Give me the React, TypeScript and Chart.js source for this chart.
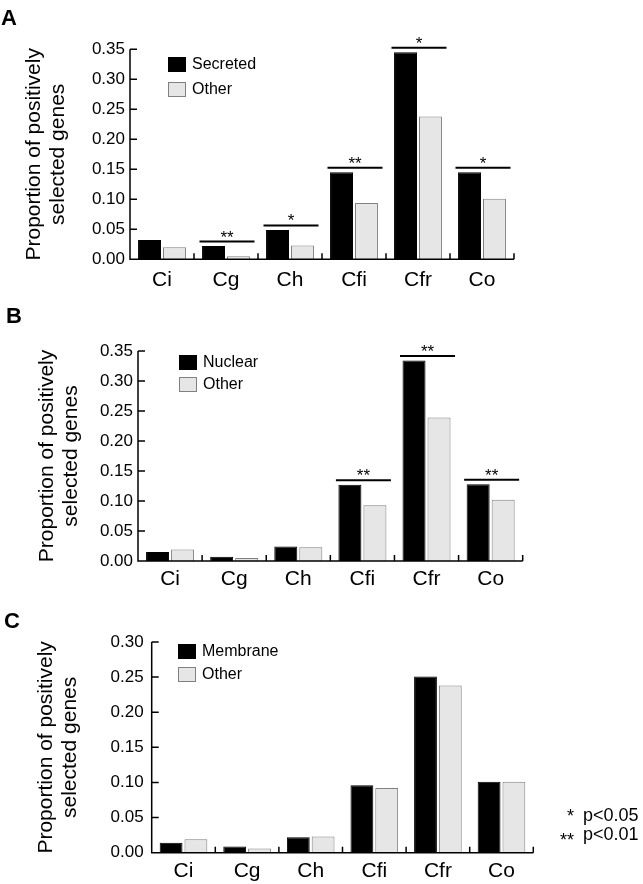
import React, { useEffect, useRef } from 'react';
import { Chart, registerables } from 'chart.js';

Chart.register(...registerables);

const FONT = '"Liberation Sans", Arial, Helvetica, sans-serif';
Chart.defaults.font.family = FONT;

// ---------- data ----------
const categories = ['Ci', 'Cg', 'Ch', 'Cfi', 'Cfr', 'Co'];

const secretedValues = [0.032, 0.022, 0.049, 0.145, 0.345, 0.145];
const otherAValues = [0.020, 0.005, 0.023, 0.094, 0.238, 0.101];
const sigA = ['', '**', '*', '**', '*', '*'];

const nuclearValues = [0.015, 0.007, 0.024, 0.127, 0.334, 0.128];
const otherBValues = [0.019, 0.005, 0.023, 0.093, 0.239, 0.102];
const sigB = ['', '', '', '**', '**', '**'];

const membraneValues = [0.014, 0.009, 0.022, 0.096, 0.251, 0.101];
const otherCValues = [0.019, 0.006, 0.023, 0.092, 0.238, 0.101];
const sigC = ['', '', '', '', '', ''];

const yTicksAB = [0, 0.05, 0.1, 0.15, 0.2, 0.25, 0.3, 0.35];
const yTickLabelsAB = ['0.00', '0.05', '0.10', '0.15', '0.20', '0.25', '0.30', '0.35'];
const yTicksC = [0, 0.05, 0.1, 0.15, 0.2, 0.25, 0.3];
const yTickLabelsC = ['0.00', '0.05', '0.10', '0.15', '0.20', '0.25', '0.30'];

const yTitle = ['Proportion of positively', 'selected genes'];

// ---------- decoration plugin (axes, ticks, legend, significance marks) ----------
const decoPlugin = {
  id: 'panelDeco',
  afterDatasetsDraw(chart: any, _args: any, opts: any) {
    const { ctx, chartArea: a, scales } = chart;
    const xs = scales.x;
    const ys = scales.y;
    ctx.save();
    ctx.strokeStyle = '#000';
    ctx.lineWidth = 1.5;
    ctx.lineCap = 'butt';
    ctx.beginPath();
    ctx.moveTo(a.left, a.top);
    ctx.lineTo(a.left, a.bottom);
    ctx.lineTo(a.right, a.bottom);
    // inward y ticks
    ys.ticks.forEach((t: any) => {
      const py = ys.getPixelForValue(t.value);
      ctx.moveTo(a.left, py);
      ctx.lineTo(a.left + 7, py);
    });
    // upward x ticks at category boundaries
    const n = chart.data.labels.length;
    const w = xs.getPixelForValue(1) - xs.getPixelForValue(0);
    for (let i = 1; i <= n; i++) {
      const bx = xs.getPixelForValue(i - 1) + w / 2;
      ctx.moveTo(bx, a.bottom);
      ctx.lineTo(bx, a.bottom - 6);
    }
    ctx.stroke();

    // legend
    const lg = opts.legend;
    chart.data.datasets.forEach((ds: any, i: number) => {
      const bx = a.left + lg.x;
      const by = a.top + lg.y + i * lg.gap;
      ctx.fillStyle = ds.backgroundColor;
      ctx.fillRect(bx, by, 18, 15);
      ctx.strokeStyle = ds.borderColor;
      ctx.lineWidth = 1;
      ctx.strokeRect(bx + 0.5, by + 0.5, 17, 14);
      ctx.fillStyle = '#000';
      ctx.font = '16px ' + FONT;
      ctx.textBaseline = 'middle';
      ctx.textAlign = 'left';
      ctx.fillText(ds.label, bx + 24, by + 8);
    });

    // significance marks
    const sig: string[] = opts.sig || [];
    sig.forEach((m, i) => {
      if (!m) return;
      const maxV = Math.max(...chart.data.datasets.map((d: any) => d.data[i]));
      const py = ys.getPixelForValue(maxV) - 4.5;
      const xc = xs.getPixelForValue(i) + 1;
      ctx.strokeStyle = '#000';
      ctx.lineWidth = 2;
      ctx.beginPath();
      ctx.moveTo(xc - 27.5, py);
      ctx.lineTo(xc + 27.5, py);
      ctx.stroke();
      ctx.fillStyle = '#000';
      ctx.font = '17px ' + FONT;
      ctx.textAlign = 'center';
      ctx.textBaseline = 'alphabetic';
      ctx.fillText(m, xc, py + 1);
    });
    ctx.restore();
  },
};

type Panel = {
  top: number;
  height: number;
  areaTop: number;
  areaBottom: number;
  areaLeft: number;
  areaRight: number;
  titlePad: number;
  labelPad: number;
  tickPad: number;
  legend: { x: number; y: number; gap: number };
  names: string[];
  series: number[][];
  sig: string[];
  yTicks: number[];
  yTickLabels: string[];
};

const W = 643;
const X_AXIS_H = 36;
const PAD_LEFT = 20;

const panels: Panel[] = [
  {
    top: 0, height: 300, areaTop: 49.3, areaBottom: 259.3, areaLeft: 130, areaRight: 514,
    titlePad: 1.9, labelPad: 8, tickPad: 5, legend: { x: 38, y: 7.7, gap: 25 },
    names: ['Secreted', 'Other'], series: [secretedValues, otherAValues], sig: sigA,
    yTicks: yTicksAB, yTickLabels: yTickLabelsAB,
  },
  {
    top: 295, height: 305, areaTop: 351, areaBottom: 561, areaLeft: 138, areaRight: 522.7,
    titlePad: 14.9, labelPad: 5.5, tickPad: 5, legend: { x: 41, y: 4, gap: 22 },
    names: ['Nuclear', 'Other'], series: [nuclearValues, otherBValues], sig: sigB,
    yTicks: yTicksAB, yTickLabels: yTickLabelsAB,
  },
  {
    top: 595, height: 289, areaTop: 642, areaBottom: 852.7, areaLeft: 151.7, areaRight: 533.3,
    titlePad: 14.4, labelPad: 6, tickPad: 8, legend: { x: 26.3, y: 2, gap: 23 },
    names: ['Membrane', 'Other'], series: [membraneValues, otherCValues], sig: sigC,
    yTicks: yTicksC, yTickLabels: yTickLabelsC,
  },
];

const fills = ['#000000', '#e6e6e6'];
const borders = ['#000000', '#808080'];

function PanelChart({ p }: { p: Panel }) {
  const ref = useRef<HTMLCanvasElement | null>(null);
  useEffect(() => {
    if (!ref.current) return;
    const yMax = p.yTicks[p.yTicks.length - 1];
    const xH = Math.min(X_AXIS_H, p.height - (p.areaBottom - p.top));
    const chart = new Chart(ref.current, {
      type: 'bar',
      data: {
        labels: categories,
        datasets: p.series.map((vals, i) => ({
          label: p.names[i],
          data: vals,
          backgroundColor: fills[i],
          borderColor: borders[i],
          borderWidth: 1,
          categoryPercentage: 0.78,
          barPercentage: 0.92,
        })),
      },
      options: {
        responsive: false,
        animation: false,
        events: [],
        layout: {
          padding: {
            left: PAD_LEFT,
            top: p.areaTop - p.top,
            right: W - p.areaRight,
            bottom: p.height - (p.areaBottom - p.top) - xH,
          },
        },
        plugins: {
          legend: { display: false },
          tooltip: { enabled: false },
          panelDeco: { legend: p.legend, sig: p.sig },
        } as any,
        scales: {
          x: {
            type: 'category',
            offset: true,
            grid: { display: false, drawTicks: false },
            border: { display: false },
            ticks: {
              font: { size: 21, family: FONT },
              color: '#000',
              padding: p.labelPad,
              maxRotation: 0,
              autoSkip: false,
            },
            afterFit: (s: any) => { s.height = xH; },
          },
          y: {
            min: 0,
            max: yMax,
            grid: { display: false, drawTicks: false },
            border: { display: false },
            afterBuildTicks: (s: any) => { s.ticks = p.yTicks.map((v) => ({ value: v })); },
            ticks: {
              font: { size: 17, family: FONT },
              color: '#000',
              padding: p.tickPad,
              callback: (_v: any, idx: number) => p.yTickLabels[idx],
            },
            title: {
              display: true,
              text: yTitle,
              color: '#000',
              font: { size: 21, family: FONT, lineHeight: 1.15 },
              padding: { top: p.titlePad, bottom: 0 },
            },
            afterFit: (s: any) => { s.width = p.areaLeft - PAD_LEFT; },
          },
        },
      } as any,
      plugins: [decoPlugin as any],
    });
    return () => chart.destroy();
  }, [p]);
  return (
    <canvas
      ref={ref}
      width={W}
      height={p.height}
      style={{ position: 'absolute', left: 0, top: p.top, width: W, height: p.height }}
    />
  );
}

const letterStyle = (left: number, top: number): React.CSSProperties => ({
  position: 'absolute', left, top, font: `bold 22px ${FONT}`, lineHeight: 1, color: '#000',
});
const noteStyle = (left: number, top: number): React.CSSProperties => ({
  position: 'absolute', left, top, font: `18px ${FONT}`, lineHeight: 1, color: '#000', whiteSpace: 'nowrap',
});

export default function App() {
  return (
    <div style={{ position: 'absolute', left: 0, top: 0, width: W, height: 884, background: '#fff', overflow: 'hidden' }}>
      {panels.map((p, i) => <PanelChart key={i} p={p} />)}
      <div style={letterStyle(1, 7)}>A</div>
      <div style={letterStyle(6, 305)}>B</div>
      <div style={letterStyle(4, 610)}>C</div>
      <div style={{ ...noteStyle(520, 807), width: 54, textAlign: 'right' }}>*</div>
      <div style={noteStyle(583, 805.8)}>p&lt;0.05</div>
      <div style={{ ...noteStyle(520, 831), width: 54, textAlign: 'right' }}>**</div>
      <div style={noteStyle(583, 824.8)}>p&lt;0.01</div>
    </div>
  );
}
